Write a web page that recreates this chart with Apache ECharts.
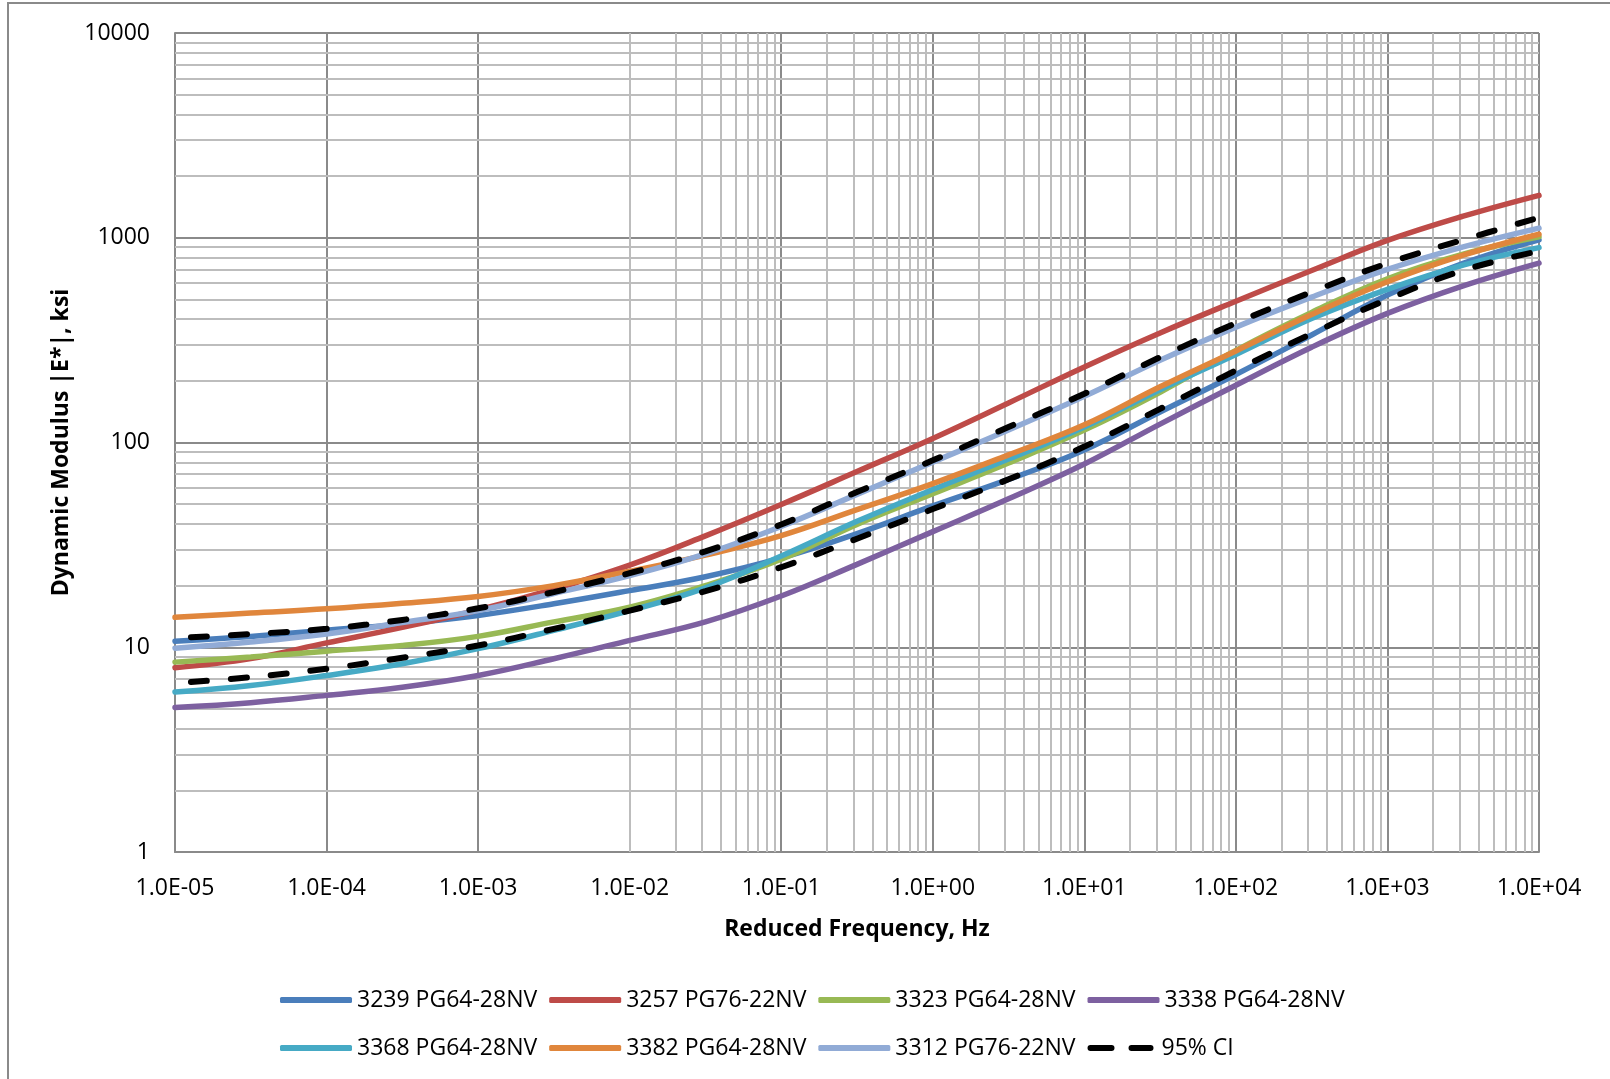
<!DOCTYPE html>
<html>
<head>
<meta charset="utf-8">
<script src="https://cdn.jsdelivr.net/npm/echarts@6/dist/echarts.min.js"></script>
<style>
html,body{margin:0;padding:0;background:#ffffff;}
#chart{width:1610px;height:1079px;}
</style>
</head>
<body>
<div id="chart"></div>
<script>
// Reduced frequency (Hz), half-decade steps
const freq = [1e-5, 3.16e-5, 1e-4, 3.16e-4, 1e-3, 3.16e-3, 1e-2, 3.16e-2, 0.1, 0.316, 1, 3.16, 10, 31.6, 100, 316, 1000, 3160, 10000];

// Dynamic modulus |E*| (ksi)
const s3239 = [10.7, 11.3, 12.1, 13.0, 14.3, 16.3, 18.9, 22.1, 27.3, 35.9, 49, 66, 92, 141, 215, 335, 525, 750, 977];
const s3257 = [7.94, 8.8, 10.5, 12.5, 15.2, 19.2, 25.2, 35.0, 49.8, 72.1, 104.7, 156, 234, 343, 490, 692, 970, 1274, 1611];
const s3323 = [8.46, 8.95, 9.57, 10.2, 11.3, 13.3, 15.7, 20.0, 26.9, 39.8, 56.2, 79.4, 115, 176, 282, 432, 631, 832, 1012];
const s3338 = [5.08, 5.36, 5.82, 6.38, 7.28, 8.79, 10.8, 13.3, 17.8, 25.4, 36.7, 53.1, 78.5, 123, 190.5, 292, 427, 582, 752];
const s3368 = [6.04, 6.51, 7.28, 8.3, 9.84, 12.1, 15.1, 19.5, 27.9, 41.2, 58.9, 83, 119, 181, 269, 403, 560, 735, 895];
const s3382 = [14.0, 14.7, 15.4, 16.4, 17.7, 20.0, 23.5, 28.2, 35.1, 47.0, 63, 87, 122, 187, 280, 422, 610, 822, 1040];
const s3312 = [9.9, 10.6, 11.6, 13.2, 15.1, 18.3, 22.4, 28.6, 38.9, 55.8, 80.2, 115, 168, 252, 366, 513, 700, 902, 1114];
const ciUpper = [11.1, 11.6, 12.3, 13.6, 15.5, 18.6, 23.0, 29.4, 39.8, 57.3, 81.8, 119, 173, 261, 383, 543, 750, 977, 1254];
const ciLower = [6.68, 7.14, 7.85, 8.89, 10.2, 12.3, 15.1, 18.8, 24.6, 33.9, 47.3, 66.1, 95.5, 146, 225, 340, 500, 693, 861];

const seriesNames = ['3239 PG64-28NV', '3257 PG76-22NV', '3323 PG64-28NV', '3338 PG64-28NV', '3368 PG64-28NV', '3382 PG64-28NV', '3312 PG76-22NV', '95% CI'];

const xTickLabels = ['1.0E-05', '1.0E-04', '1.0E-03', '1.0E-02', '1.0E-01', '1.0E+00', '1.0E+01', '1.0E+02', '1.0E+03', '1.0E+04'];
const yTickLabels = ['1', '10', '100', '1000', '10000'];

const FONT = 'Open Sans';
const colors = ['#4A7EBB', '#BE4B48', '#98B954', '#7D60A0', '#46AAC5', '#E0863C', '#91ABD6'];

function pairs(ys) { return freq.map(function (f, i) { return [f, ys[i]]; }); }

// minor grid positions (2..9 within each decade)
const minorX = [], minorY = [];
for (let d = -5; d < 4; d++) for (let m = 2; m <= 9; m++) minorX.push(m * Math.pow(10, d));
for (let d = 0; d < 4; d++) for (let m = 2; m <= 9; m++) minorY.push(m * Math.pow(10, d));

const chart = echarts.init(document.getElementById('chart'), null, { renderer: 'canvas' });

const solidData = [s3239, s3257, s3323, s3338, s3368, s3382, s3312];
const series = [];

series.push({
  name: 'grid-minor', type: 'line', data: [], silent: true, z: 1,
  markLine: {
    silent: true, symbol: ['none', 'none'], animation: false, z: 1,
    label: { show: false },
    lineStyle: { color: '#BDBDBD', width: 2, type: 'solid' },
    emphasis: { disabled: true },
    data: minorX.map(function (v) { return { xAxis: v }; }).concat(minorY.map(function (v) { return { yAxis: v }; }))
  }
});

solidData.forEach(function (arr, i) {
  series.push({
    name: seriesNames[i], type: 'line', data: pairs(arr), smooth: 0.4,
    symbol: 'none', showSymbol: false, z: 3 + i,
    color: colors[i],
    itemStyle: { color: colors[i] },
    lineStyle: { color: colors[i], width: 5.5, cap: 'round' }
  });
});

[ciUpper, ciLower].forEach(function (arr) {
  series.push({
    name: '95% CI', type: 'line', data: pairs(arr), smooth: 0.4,
    symbol: 'none', showSymbol: false, z: 20,
    color: '#000000',
    itemStyle: { color: '#000000' },
    lineStyle: { color: '#000000', width: 6, type: [16, 24], dashOffset: 24, cap: 'round' }
  });
});

const legendData = seriesNames.map(function (n) {
  if (n === '95% CI') {
    return { name: n, icon: 'path://M3,0 H24 A3,3 0 0 1 24,6 H3 A3,3 0 0 1 3,0 Z M44,0 H63 A3,3 0 0 1 63,6 H44 A3,3 0 0 1 44,0 Z' };
  }
  return { name: n, icon: 'roundRect' };
});

const option = {
  animation: false,
  backgroundColor: '#ffffff',
  textStyle: { fontFamily: FONT },
  grid: { left: 175, right: 71, top: 33, bottom: 227, containLabel: false },
  graphic: [{
    type: 'rect', silent: true, z: 0,
    shape: { x: 8, y: 3, width: 1700, height: 1200 },
    style: { fill: 'none', stroke: '#8A8A8A', lineWidth: 2 }
  }],
  xAxis: {
    type: 'log', logBase: 10, min: 1e-5, max: 1e4,
    name: 'Reduced Frequency, Hz', nameLocation: 'middle', nameGap: 66,
    nameTextStyle: { fontFamily: FONT, fontSize: 23, fontWeight: 'bold', color: '#000' },
    axisLine: { show: true, lineStyle: { color: '#8A8A8A', width: 2 } },
    axisTick: { show: false },
    axisLabel: {
      margin: 25, fontFamily: FONT, fontSize: 23, color: '#000',
      formatter: function (v) { return xTickLabels[Math.round(Math.log10(v)) + 5]; }
    },
    splitLine: { show: true, lineStyle: { color: '#8A8A8A', width: 2 } }
  },
  yAxis: {
    type: 'log', logBase: 10, min: 1, max: 10000,
    name: 'Dynamic Modulus |E*|, ksi', nameLocation: 'middle', nameGap: 100, nameRotate: 90,
    nameTextStyle: { fontFamily: FONT, fontSize: 23, fontWeight: 'bold', color: '#000' },
    axisLine: { show: true, lineStyle: { color: '#8A8A8A', width: 2 } },
    axisTick: { show: false },
    axisLabel: {
      margin: 25, fontFamily: FONT, fontSize: 23, color: '#000',
      formatter: function (v) { return yTickLabels[Math.round(Math.log10(v))]; }
    },
    splitLine: { show: true, lineStyle: { color: '#8A8A8A', width: 2 } }
  },
  legend: {
    data: legendData,
    left: 275, top: 977, width: 1120,
    orient: 'horizontal',
    itemWidth: 72, itemHeight: 6, itemGap: 12,
    textStyle: { fontFamily: FONT, fontSize: 23, color: '#000', lineHeight: 36 }
  },
  series: series
};

chart.setOption(option);
</script>
</body>
</html>
